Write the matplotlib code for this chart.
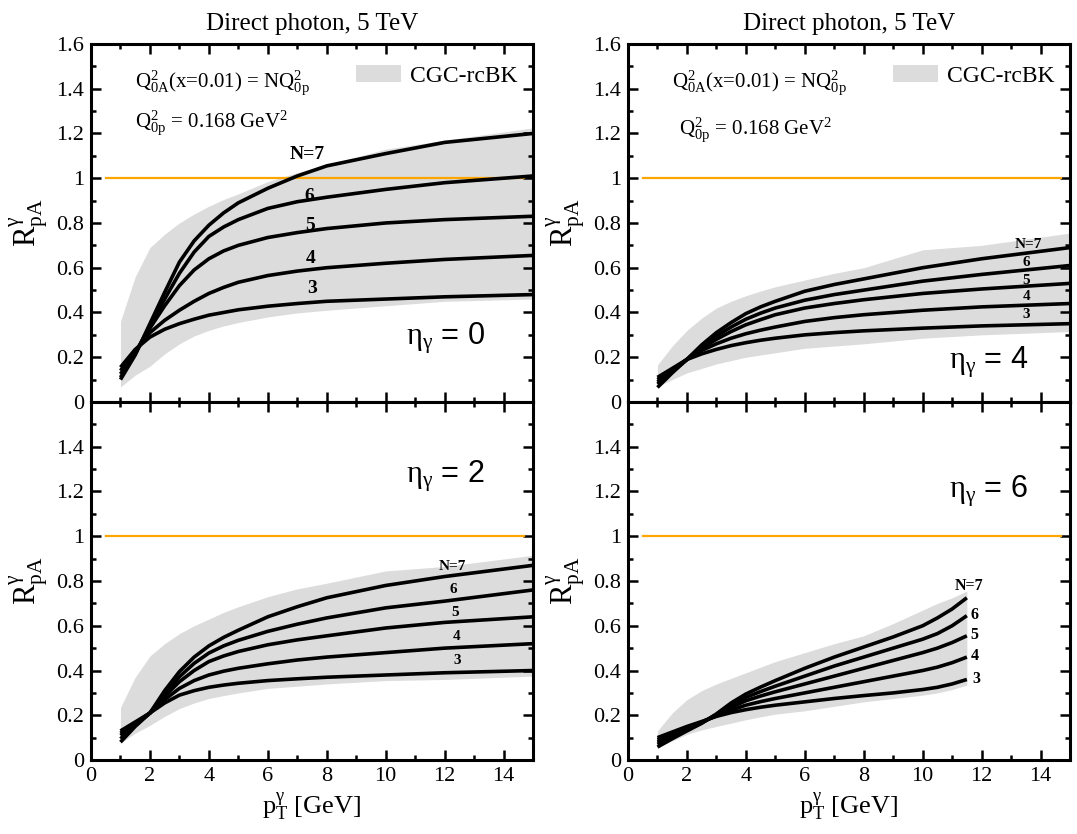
import numpy as np
import matplotlib
matplotlib.use("Agg")
import matplotlib.pyplot as plt
from matplotlib.ticker import MultipleLocator, FuncFormatter

plt.rcParams['font.family'] = 'serif'
plt.rcParams['font.serif'] = ['Liberation Serif', 'DejaVu Serif']
plt.rcParams['mathtext.fontset'] = 'custom'
plt.rcParams['mathtext.rm'] = 'Liberation Serif'
plt.rcParams['mathtext.it'] = 'Liberation Serif:italic'
plt.rcParams['mathtext.bf'] = 'Liberation Serif:bold'
SERIF = 'Liberation Serif'

# saturation scale factors N (curves from bottom to top at high pT)
n_values = [3, 4, 5, 6, 7]

# pT grids [GeV]
pt = [1, 1.5, 2, 2.5, 3, 3.5, 4, 4.5, 5, 6, 7, 8, 10, 12, 15]
pt_eta6 = [1, 1.5, 2, 2.5, 3, 3.5, 4, 4.5, 5, 6, 7, 8, 9, 10, 10.5, 11, 11.5]

# eta_gamma = 0
eta0_curves = [
    [0.155, 0.235, 0.29, 0.325, 0.35, 0.37, 0.388, 0.40, 0.412, 0.428, 0.44, 0.45, 0.46, 0.47, 0.48],
    [0.14, 0.228, 0.31, 0.365, 0.41, 0.45, 0.485, 0.512, 0.535, 0.565, 0.585, 0.60, 0.62, 0.637, 0.655],
    [0.125, 0.222, 0.33, 0.43, 0.52, 0.59, 0.64, 0.675, 0.70, 0.735, 0.757, 0.775, 0.80, 0.815, 0.83],
    [0.11, 0.215, 0.34, 0.46, 0.575, 0.67, 0.74, 0.782, 0.815, 0.865, 0.895, 0.915, 0.95, 0.98, 1.01],
    [0.10, 0.21, 0.35, 0.49, 0.625, 0.72, 0.79, 0.845, 0.89, 0.955, 1.01, 1.055, 1.11, 1.16, 1.20],
]
eta0_lo = [0.067, 0.12, 0.16, 0.215, 0.26, 0.295, 0.32, 0.34, 0.355, 0.38, 0.398, 0.41, 0.43, 0.45, 0.46]
eta0_hi = [0.36, 0.56, 0.69, 0.75, 0.80, 0.84, 0.875, 0.905, 0.93, 0.985, 1.025, 1.06, 1.13, 1.17, 1.225]

# eta_gamma = 4
eta4_curves = [
    [0.11, 0.15, 0.19, 0.215, 0.235, 0.252, 0.265, 0.276, 0.285, 0.30, 0.31, 0.318, 0.33, 0.34, 0.35],
    [0.10, 0.145, 0.19, 0.23, 0.26, 0.285, 0.305, 0.321, 0.335, 0.36, 0.377, 0.39, 0.41, 0.425, 0.44],
    [0.09, 0.14, 0.19, 0.24, 0.28, 0.315, 0.345, 0.368, 0.39, 0.42, 0.44, 0.457, 0.485, 0.505, 0.53],
    [0.08, 0.135, 0.19, 0.25, 0.295, 0.335, 0.37, 0.397, 0.42, 0.455, 0.48, 0.50, 0.54, 0.57, 0.61],
    [0.065, 0.13, 0.19, 0.255, 0.31, 0.355, 0.395, 0.425, 0.45, 0.495, 0.525, 0.55, 0.60, 0.64, 0.69],
]
eta4_lo = [0.07, 0.10, 0.13, 0.15, 0.17, 0.185, 0.20, 0.21, 0.22, 0.24, 0.25, 0.26, 0.285, 0.30, 0.315]
eta4_hi = [0.165, 0.25, 0.32, 0.375, 0.42, 0.45, 0.475, 0.496, 0.515, 0.545, 0.575, 0.60, 0.68, 0.70, 0.755]

# eta_gamma = 2
eta2_curves = [
    [0.13, 0.17, 0.21, 0.255, 0.29, 0.31, 0.325, 0.335, 0.343, 0.355, 0.363, 0.37, 0.38, 0.39, 0.40],
    [0.12, 0.165, 0.21, 0.27, 0.32, 0.355, 0.38, 0.397, 0.41, 0.43, 0.447, 0.46, 0.48, 0.50, 0.52],
    [0.11, 0.16, 0.21, 0.285, 0.35, 0.40, 0.44, 0.465, 0.485, 0.515, 0.537, 0.555, 0.59, 0.615, 0.64],
    [0.095, 0.155, 0.21, 0.295, 0.372, 0.432, 0.478, 0.51, 0.535, 0.575, 0.607, 0.635, 0.68, 0.71, 0.76],
    [0.08, 0.15, 0.21, 0.31, 0.395, 0.46, 0.51, 0.548, 0.58, 0.64, 0.685, 0.725, 0.78, 0.82, 0.87],
]
eta2_lo = [0.075, 0.12, 0.155, 0.195, 0.23, 0.255, 0.275, 0.288, 0.30, 0.32, 0.33, 0.34, 0.355, 0.36, 0.375]
eta2_hi = [0.235, 0.37, 0.465, 0.52, 0.565, 0.60, 0.63, 0.66, 0.685, 0.73, 0.765, 0.79, 0.845, 0.865, 0.915]

# eta_gamma = 6
eta6_curves = [
    [0.10, 0.125, 0.15, 0.172, 0.195, 0.212, 0.225, 0.236, 0.245, 0.26, 0.275, 0.288, 0.30, 0.315, 0.325, 0.34, 0.36],
    [0.09, 0.118, 0.145, 0.17, 0.198, 0.223, 0.245, 0.261, 0.275, 0.30, 0.325, 0.35, 0.375, 0.40, 0.415, 0.435, 0.46],
    [0.08, 0.11, 0.14, 0.168, 0.20, 0.235, 0.265, 0.286, 0.305, 0.34, 0.375, 0.41, 0.445, 0.48, 0.50, 0.525, 0.555],
    [0.07, 0.103, 0.135, 0.166, 0.203, 0.245, 0.28, 0.306, 0.33, 0.375, 0.42, 0.46, 0.50, 0.54, 0.565, 0.60, 0.645],
    [0.058, 0.095, 0.13, 0.164, 0.206, 0.255, 0.295, 0.326, 0.355, 0.41, 0.46, 0.505, 0.55, 0.60, 0.635, 0.675, 0.725],
]
eta6_lo = [0.058, 0.085, 0.115, 0.135, 0.15, 0.165, 0.18, 0.193, 0.205, 0.22, 0.24, 0.26, 0.275, 0.29, 0.30, 0.315, 0.335]
eta6_hi = [0.13, 0.21, 0.27, 0.31, 0.34, 0.365, 0.39, 0.415, 0.44, 0.48, 0.52, 0.555, 0.61, 0.67, 0.70, 0.725, 0.755]

title = "Direct photon, 5 TeV"
band_label = "CGC-rcBK"

fig = plt.figure(figsize=(10.77, 8.34), dpi=100)
lefts = [0.0845, 0.5831]
bottoms = [0.518, 0.0887]
w, h = 0.4104, 0.4293

ax_tl = fig.add_axes([lefts[0], bottoms[0], w, h])
ax_tr = fig.add_axes([lefts[1], bottoms[0], w, h])
ax_bl = fig.add_axes([lefts[0], bottoms[1], w, h])
ax_br = fig.add_axes([lefts[1], bottoms[1], w, h])

# panel, x grid, curves, band, eta, eta label pos, N label positions, N label size
panels = [
    (ax_tl, pt, eta0_curves, eta0_lo, eta0_hi, 0, (10.7, 0.285),
     [(7.5, 0.508), (7.47, 0.643), (7.42, 0.79), (7.42, 0.92), (7.35, 1.107)], 14),
    (ax_tr, pt, eta4_curves, eta4_lo, eta4_hi, 4, (10.9, 0.18),
     [(13.5, 0.389), (13.53, 0.471), (13.5, 0.541), (13.53, 0.623), (13.6, 0.703)], 11),
    (ax_bl, pt, eta2_curves, eta2_lo, eta2_hi, 2, (10.7, 1.27),
     [(12.42, 0.444), (12.42, 0.55), (12.36, 0.658), (12.3, 0.761), (12.25, 0.865)], 11),
    (ax_br, pt_eta6, eta6_curves, eta6_lo, eta6_hi, 6, (10.9, 1.20),
     [(11.82, 0.362), (11.76, 0.466), (11.76, 0.557), (11.76, 0.65), (11.56, 0.776)], 11.5),
]

fmt = FuncFormatter(lambda v, p: "%g" % round(v, 3))

for ax, x, curves, lo, hi, eta, eta_pos, npos, nsize in panels:
    ax.fill_between(x, lo, hi, color='#dcdcdc', lw=0, label=band_label)
    ax.plot([0.5, 14.7], [1, 1], color='#ffa500', lw=1.6)
    for n, y, (tx, ty) in zip(n_values, curves, npos):
        ax.plot(x, y, color='black', lw=2.6, solid_capstyle='butt',
                solid_joinstyle='round')
        txt = "N=%d" % n if n == 7 else "%d" % n
        ax.text(tx, ty, txt, fontsize=nsize, fontweight='bold', family=SERIF,
                ha='center', va='center')
    ax.text(eta_pos[0], eta_pos[1], r'$\mathrm{\eta_{\gamma}}$ = %d' % eta,
            family='Liberation Sans', fontsize=22, ha='left', va='center')

    ax.set_xlim(0, 15)
    ax.set_ylim(0, 1.6)
    ax.xaxis.set_major_locator(MultipleLocator(2))
    ax.xaxis.set_minor_locator(MultipleLocator(1))
    ax.yaxis.set_major_locator(MultipleLocator(0.2))
    ax.yaxis.set_minor_locator(MultipleLocator(0.1))
    ax.yaxis.set_major_formatter(fmt)
    ax.xaxis.set_major_formatter(fmt)
    ax.tick_params(which='both', direction='in', top=True, right=True,
                   width=1.8, labelsize=16, labelfontfamily=SERIF)
    ax.tick_params(which='major', length=7, pad=5)
    ax.tick_params(which='minor', length=3.5)
    for s in ax.spines.values():
        s.set_linewidth(2.2)
    ax.set_ylabel(r'$\mathrm{R^{\gamma}_{pA}}$', fontsize=22)
    ax.yaxis.set_label_coords(-0.09, 0.5)

for ax in (ax_tl, ax_tr):
    ax.set_title(title, fontsize=18, pad=10, family=SERIF)
    ax.tick_params(labelbottom=False)
    ax.legend(loc='upper right', bbox_to_anchor=(0.965, 0.94), frameon=False,
              prop={'family': SERIF, 'size': 17}, handlelength=1.9,
              handleheight=0.7, handletextpad=0.4, borderaxespad=0, borderpad=0)
    ax.text(1.5, 1.405, r'Q$^{2}_{\mathrm{0A}}$(x=0.01) = NQ$^{2}_{\mathrm{0p}}$',
            fontsize=15, family=SERIF, va='baseline')

ax_tl.text(1.5, 1.226, r'Q$^{2}_{\mathrm{0p}}$ = 0.168 GeV$^{2}$',
           fontsize=15, family=SERIF, va='baseline')
ax_tr.text(1.74, 1.196, r'Q$^{2}_{\mathrm{0p}}$ = 0.168 GeV$^{2}$',
           fontsize=15, family=SERIF, va='baseline')

for ax in (ax_bl, ax_br):
    ax.yaxis.set_major_formatter(FuncFormatter(
        lambda v, p: "" if v > 1.5 else "%g" % round(v, 3)))
    ax.set_xlabel(r'$\mathrm{p^{\gamma}_{T}}$ [GeV]', fontsize=19, family=SERIF)
    ax.xaxis.set_label_coords(0.5, -0.085)

fig.savefig("out.png", dpi=100)
